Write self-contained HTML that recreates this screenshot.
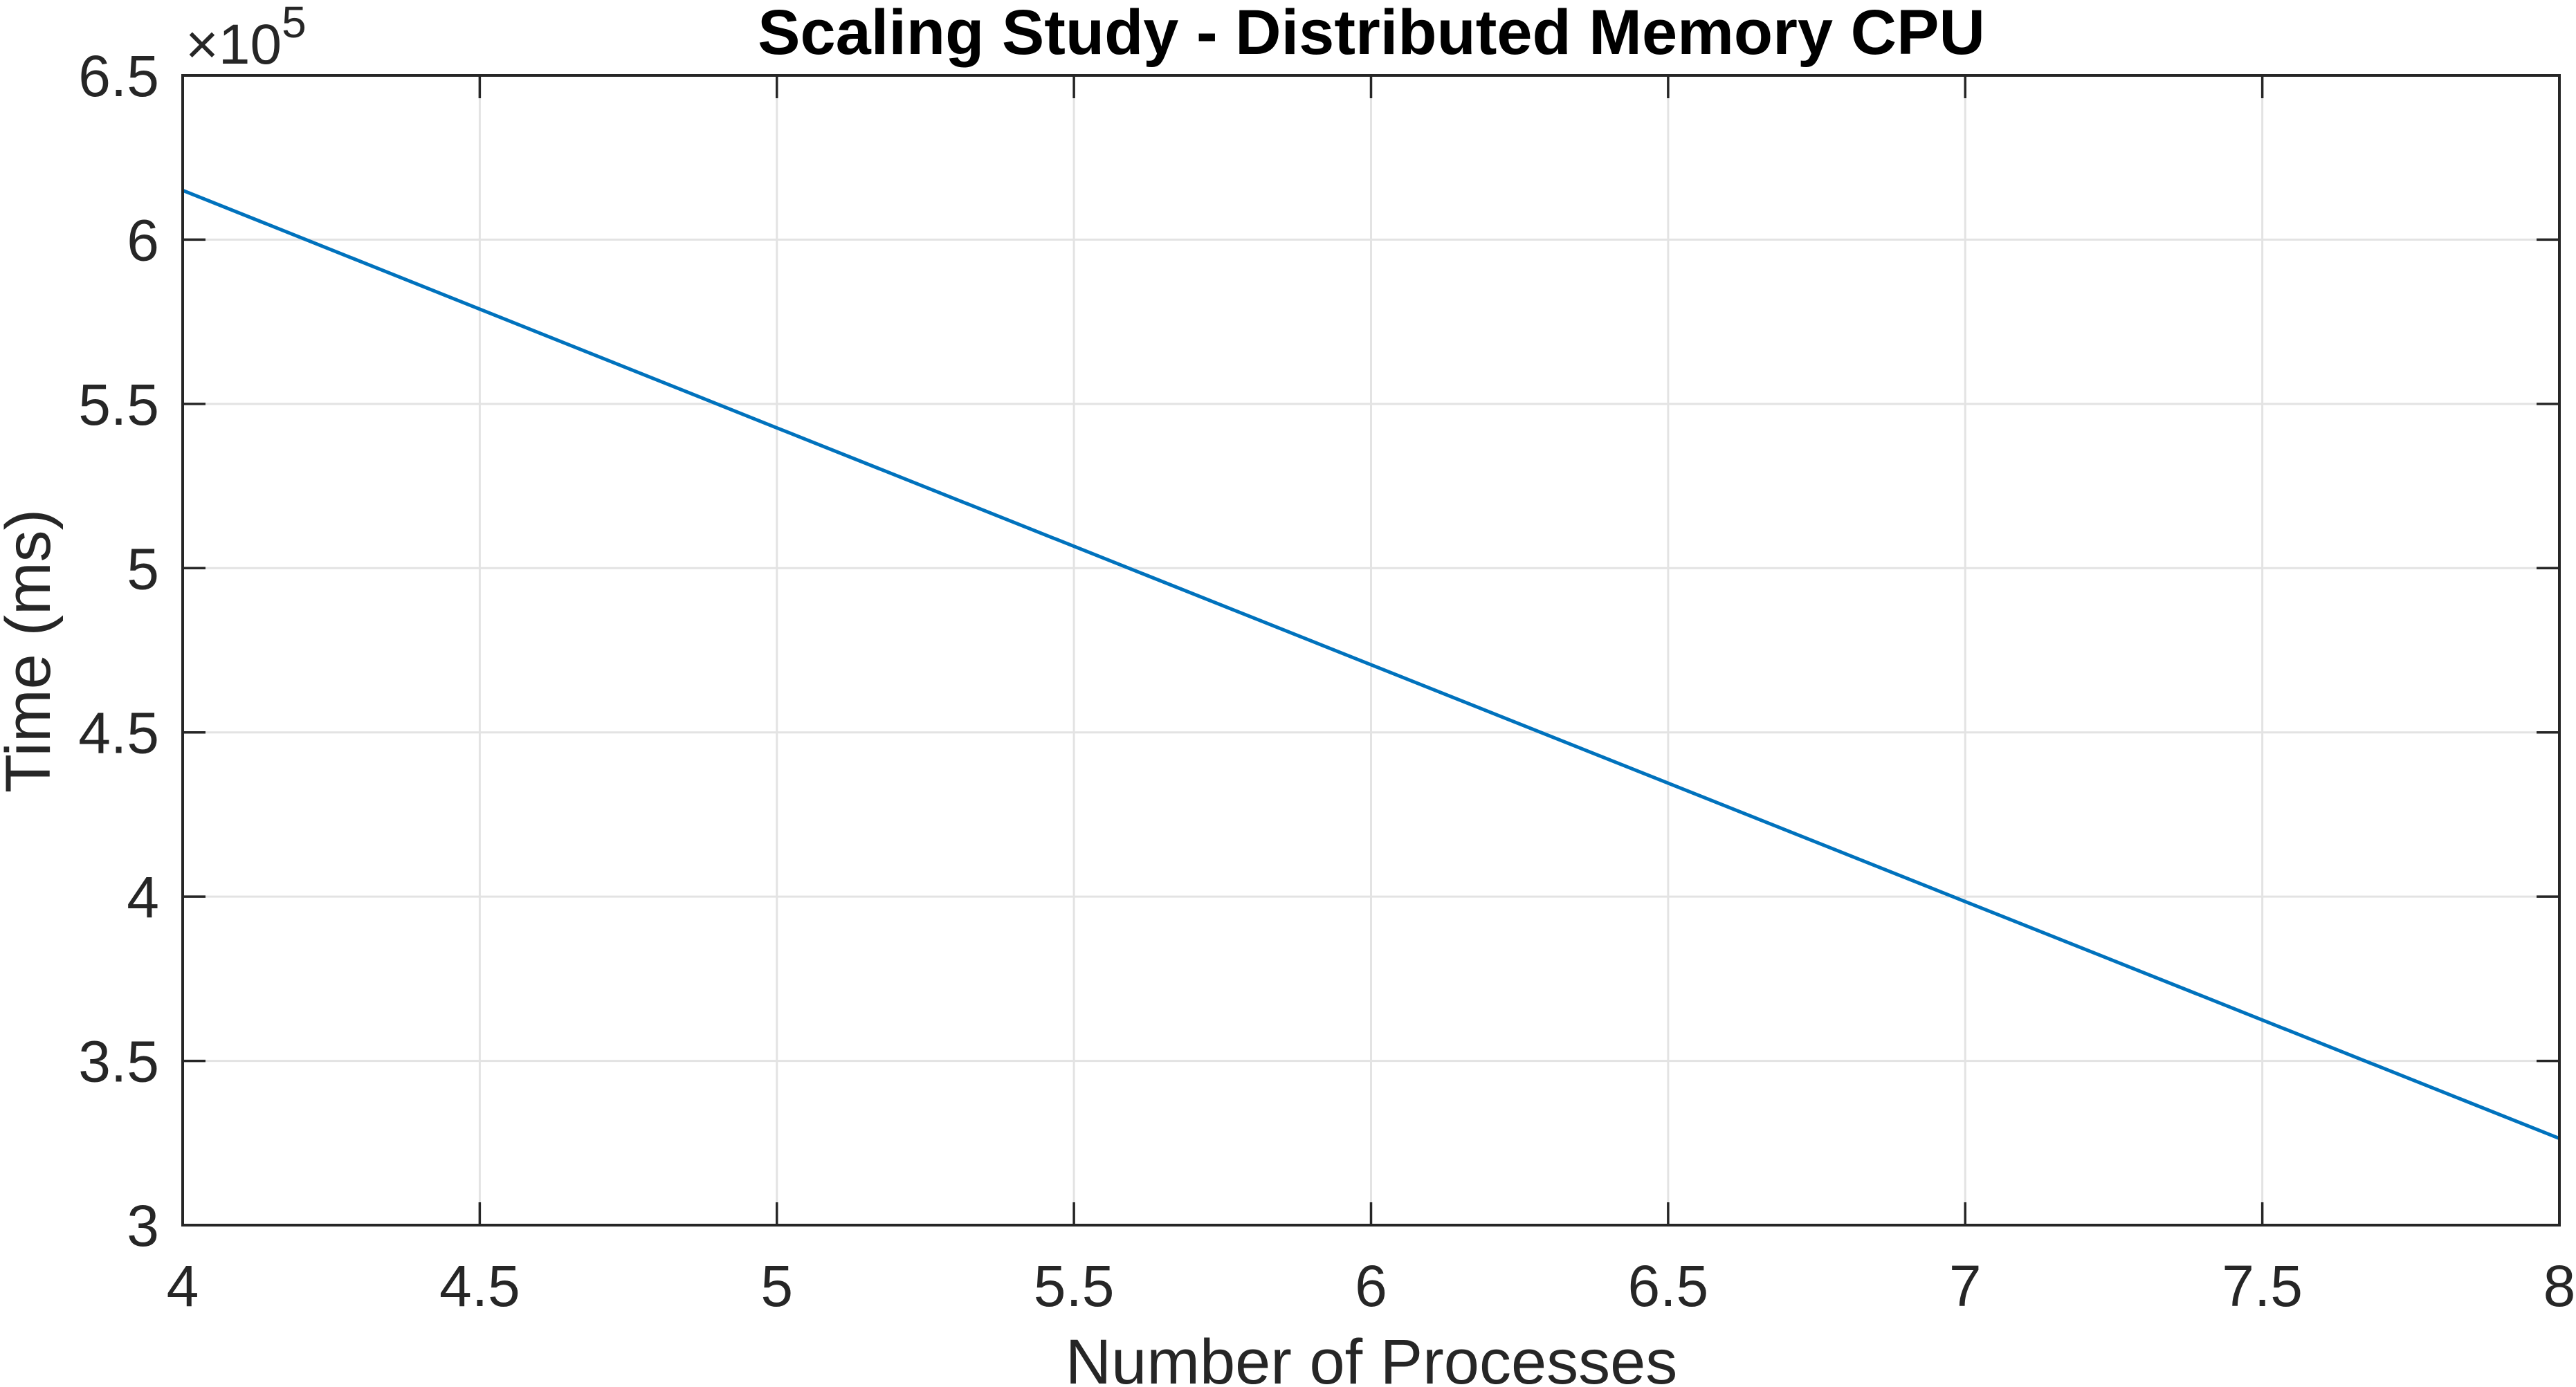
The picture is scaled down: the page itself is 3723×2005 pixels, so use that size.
<!DOCTYPE html>
<html><head><meta charset="utf-8"><style>
html,body{margin:0;padding:0;background:#fff;}
svg{display:block;font-family:"Liberation Sans",Arial,sans-serif;}
</style></head><body>
<svg id="chart" width="3723" height="2005" viewBox="0 0 3723 2005" xmlns="http://www.w3.org/2000/svg">
<rect width="3723" height="2005" fill="#fff"/>
<g id="grid"></g>
<g id="series"></g>
<g id="axes"></g>
<text x="1982" y="78" text-anchor="middle" font-size="92" font-weight="bold" fill="#000">Scaling Study - Distributed Memory CPU</text>
<text x="1982" y="2000" text-anchor="middle" font-size="92" fill="#262626">Number of Processes</text>
<text transform="translate(72,941) rotate(-90)" text-anchor="middle" font-size="92" fill="#262626">Time (ms)</text>
<text x="268" y="92" font-size="82" fill="#262626">×10<tspan dy="-38" font-size="64">5</tspan></text>
</svg>
<script>
const xValues = [4, 5, 6, 7, 8];
const yValues = [615000, 542700, 470600, 398500, 326400];
const xTicks = [4, 4.5, 5, 5.5, 6, 6.5, 7, 7.5, 8];
const xTickLabels = ["4","4.5","5","5.5","6","6.5","7","7.5","8"];
const yTicks = [3, 3.5, 4, 4.5, 5, 5.5, 6, 6.5];
const yTickLabels = ["3","3.5","4","4.5","5","5.5","6","6.5"];

const L=264,R=3699,T=109,B=1771;
const xMin=4,xMax=8,yMin=3,yMax=6.5;
const sx=v=>L+(v-xMin)/(xMax-xMin)*(R-L);
const sy=v=>B-(v-yMin)/(yMax-yMin)*(B-T);
const NS="http://www.w3.org/2000/svg";
function mk(tag,attrs,parent){const e=document.createElementNS(NS,tag);for(const k in attrs)e.setAttribute(k,attrs[k]);parent.appendChild(e);return e;}
const grid=document.getElementById('grid'),axes=document.getElementById('axes'),series=document.getElementById('series');

xTicks.forEach((t,i)=>{
  const x=sx(t);
  if(i>0&&i<xTicks.length-1){
    const g=mk('line',{x1:x,x2:x,y1:T,y2:B,stroke:'#e3e3e3','stroke-width':3},grid);
    
    
  }
  const tk=mk('line',{x1:x,x2:x,y1:B,y2:B-33,stroke:'#262626','stroke-width':3.5},axes);
  
  
  const tk2=mk('line',{x1:x,x2:x,y1:T,y2:T+33,stroke:'#262626','stroke-width':3.5},axes);
  
  
  const lb=mk('text',{x:x,y:1888,'text-anchor':'middle','font-size':84,fill:'#262626'},axes);
  lb.textContent=xTickLabels[i];
  
  
});
yTicks.forEach((t,i)=>{
  const y=sy(t);
  if(i>0&&i<yTicks.length-1){
    const g=mk('line',{x1:L,x2:R,y1:y,y2:y,stroke:'#e3e3e3','stroke-width':3},grid);
    
    
  }
  const tk=mk('line',{x1:L,x2:L+33,y1:y,y2:y,stroke:'#262626','stroke-width':3.5},axes);
  
  
  const tk2=mk('line',{x1:R,x2:R-33,y1:y,y2:y,stroke:'#262626','stroke-width':3.5},axes);
  
  
  const lb=mk('text',{x:230,y:y+30,'text-anchor':'end','font-size':84,fill:'#262626'},axes);
  lb.textContent=yTickLabels[i];
  
  
});
const frame=mk('rect',{x:L,y:T,width:R-L,height:B-T,fill:'none',stroke:'#262626','stroke-width':4},axes);



const pts=xValues.map((x,i)=>sx(x)+','+sy(yValues[i]/1e5)).join(' ');
const line=mk('polyline',{points:pts,fill:'none',stroke:'#0072BD','stroke-width':5},series);


</script>
</body></html>
